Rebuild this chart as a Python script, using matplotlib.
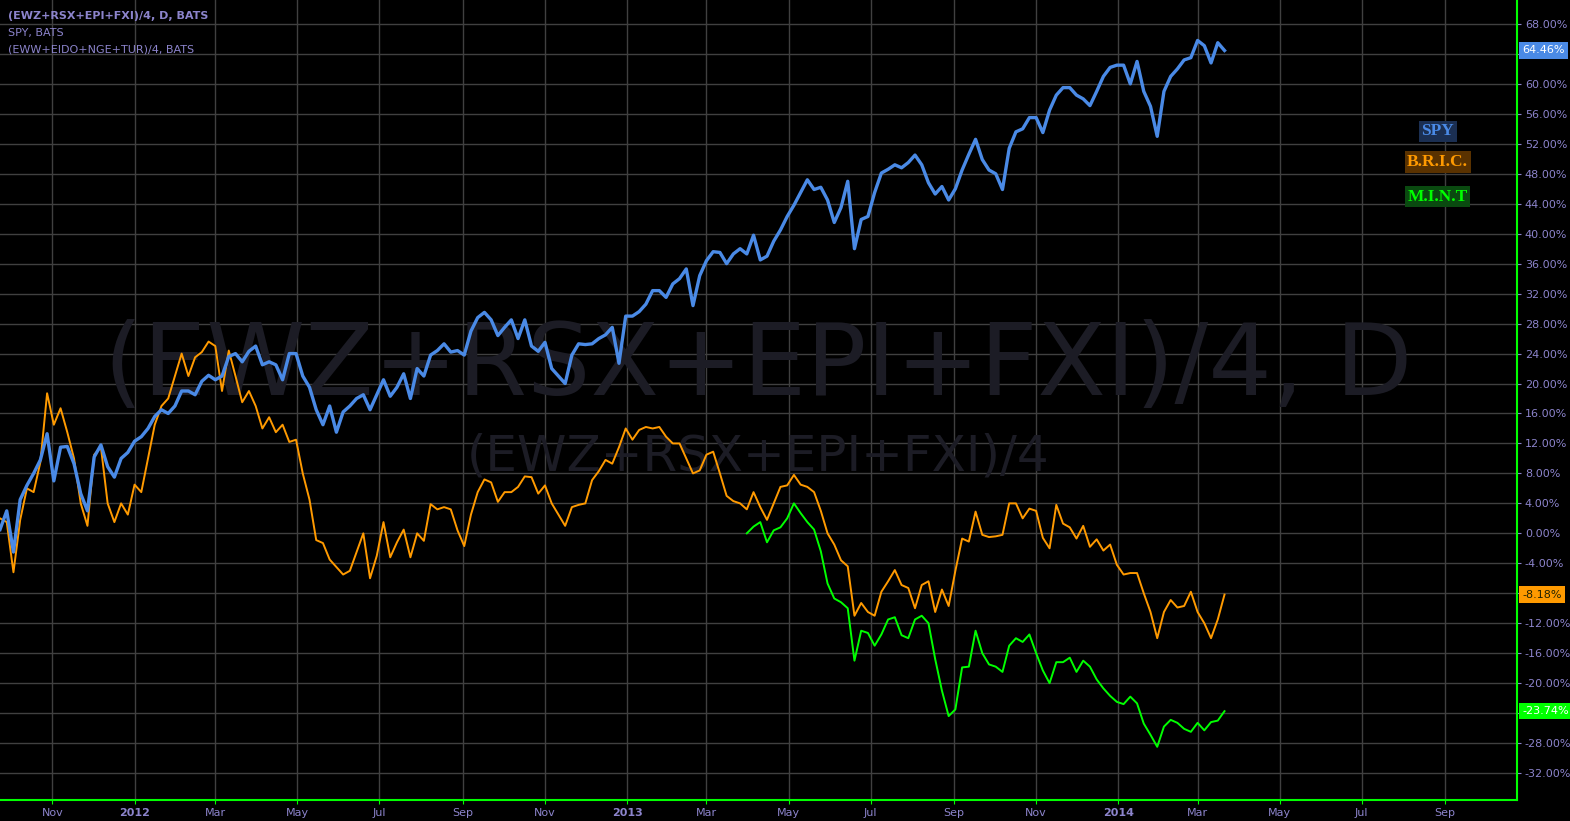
import pandas as pd
import matplotlib
matplotlib.use('Agg')
import matplotlib.pyplot as plt
import matplotlib.dates as mdates

# percent change series, one value every 5 days starting 2011-09-23
start = '2011-09-23'
step = '5D'

spy = [0.5, 3.0, -2.5, 4.5, 6.4, 8.0, 9.8, 13.3, 7.0, 11.5,
       11.6, 9.3, 5.3, 3.0, 10.2, 11.8, 8.9, 7.5, 10.0, 10.8,
       12.3, 12.9, 14.0, 15.6, 16.5, 16.0, 17.0, 19.0, 19.0, 18.5,
       20.3, 21.1, 20.5, 21.0, 23.6, 24.0, 22.9, 24.3, 25.0, 22.5,
       22.9, 22.5, 20.5, 24.0, 24.0, 21.0, 19.5, 16.5, 14.5, 17.0,
       13.5, 16.2, 17.0, 18.0, 18.5, 16.5, 18.5, 20.5, 18.3, 19.5,
       21.3, 18.0, 22.0, 21.0, 23.8, 24.4, 25.3, 24.2, 24.4, 23.8,
       27.0, 28.8, 29.5, 28.5, 26.4, 27.5, 28.5, 26.0, 28.5, 25.0,
       24.3, 25.5, 22.0, 21.0, 20.0, 23.8, 25.3, 25.2, 25.3, 26.0,
       26.5, 27.5, 22.7, 29.0, 29.0, 29.6, 30.6, 32.4, 32.4, 31.5,
       33.3, 34.0, 35.3, 30.4, 34.4, 36.4, 37.6, 37.5, 36.0, 37.3,
       38.0, 37.3, 39.8, 36.5, 37.0, 39.0, 40.5, 42.3, 43.8, 45.5,
       47.2, 45.9, 46.2, 44.5, 41.5, 43.5, 47.0, 38.0, 41.9, 42.3,
       45.5, 48.1, 48.6, 49.2, 48.8, 49.5, 50.5, 49.2, 46.8, 45.3,
       46.3, 44.5, 46.0, 48.5, 50.6, 52.6, 49.9, 48.5, 48.0, 45.9,
       51.4, 53.6, 54.0, 55.5, 55.5, 53.5, 56.5, 58.5, 59.5, 59.5,
       58.5, 58.0, 57.1, 59.0, 61.0, 62.2, 62.5, 62.5, 60.0, 63.0,
       59.0, 57.0, 53.0, 59.0, 61.0, 62.0, 63.2, 63.5, 65.8, 65.1,
       62.8, 65.5, 64.46]

bric = [2.0, 1.5, -5.2, 1.8, 6.0, 5.5, 9.5, 18.7, 14.5, 16.7,
        13.5, 10.0, 4.0, 1.0, 10.5, 11.5, 4.0, 1.5, 4.0, 2.5,
        6.5, 5.5, 10.0, 14.5, 17.0, 18.0, 21.0, 24.0, 21.0, 23.5,
        24.2, 25.6, 25.0, 19.0, 24.4, 21.0, 17.5, 19.0, 17.0, 14.0,
        15.5, 13.5, 14.5, 12.2, 12.5, 8.0, 4.5, -0.9, -1.3, -3.5,
        -4.5, -5.5, -5.0, -2.5, 0.0, -6.0, -3.0, 1.5, -3.2, -1.2,
        0.5, -3.2, 0.0, -1.0, 3.9, 3.2, 3.5, 3.2, 0.4, -1.7,
        2.5, 5.5, 7.2, 6.8, 4.2, 5.5, 5.5, 6.2, 7.6, 7.5,
        5.3, 6.4, 4.0, 2.5, 1.0, 3.5, 3.8, 4.0, 7.1, 8.3,
        9.8, 9.3, 11.5, 14.0, 12.5, 13.8, 14.2, 14.0, 14.2, 12.9,
        12.0, 12.0, 10.0, 8.0, 8.4, 10.5, 10.9, 8.0, 5.0, 4.3,
        4.0, 3.2, 5.5, 3.5, 1.8, 4.0, 6.2, 6.4, 7.8, 6.5,
        6.2, 5.5, 3.0, 0.0, -1.5, -3.6, -4.4, -11.0, -9.3, -10.5,
        -11.0, -7.8, -6.4, -4.9, -6.9, -7.3, -10.0, -6.9, -6.4, -10.5,
        -7.5, -9.7, -5.0, -0.7, -1.1, 2.9, -0.2, -0.5, -0.4, -0.2,
        4.0, 4.0, 2.0, 3.3, 3.0, -0.6, -2.0, 3.8, 1.3, 0.8,
        -0.7, 1.0, -1.8, -0.8, -2.3, -1.5, -4.2, -5.5, -5.3, -5.3,
        -8.0, -10.5, -14.0, -10.5, -8.9, -9.9, -9.7, -7.8, -10.5, -12.0,
        -14.0, -11.5, -8.18]

# MINT starts later (index 111 of the date grid)
mint_first = 111
mint = [0.0, 0.9, 1.5, -1.2, 0.4, 0.8, 2.0, 4.0, 2.7, 1.5,
        0.5, -2.4, -6.7, -8.7, -9.2, -10.0, -17.0, -13.0, -13.3, -15.0,
        -13.5, -11.5, -11.2, -13.6, -14.0, -11.5, -11.0, -12.0, -16.8, -21.0,
        -24.4, -23.5, -17.9, -17.8, -13.0, -16.0, -17.5, -17.8, -18.5, -15.0,
        -14.0, -14.5, -13.5, -16.0, -18.3, -20.0, -17.2, -17.2, -16.6, -18.5,
        -17.0, -17.8, -19.5, -20.7, -21.7, -22.5, -22.8, -21.8, -22.7, -25.4,
        -26.9, -28.5, -25.8, -24.9, -25.3, -26.1, -26.5, -25.3, -26.3, -25.2,
        -25.0, -23.74]

yticks = list(range(-32, 69, 4))
hidden_ticks = [64, -8, -24]   # covered by the last value tags

blue = '#4a8ae6'
orange = '#ff9a00'
green = '#00ff00'
lav = '#8c84cc'

dates = pd.date_range(start, periods=len(spy), freq=step)
mint_dates = dates[mint_first:mint_first + len(mint)]

W, H = 1570, 821
fig = plt.figure(figsize=(W / 100, H / 100), dpi=100, facecolor='black')
ax = fig.add_axes([0, 21 / H, 1516.5 / W, 800 / H], facecolor='black')

ax.plot(dates, bric, color=orange, lw=1.4, zorder=3)
ax.plot(mint_dates, mint, color=green, lw=1.4, zorder=3)
ax.plot(dates, spy, color=blue, lw=2.4, zorder=4)

ax.set_xlim(pd.Timestamp('2011-09-23'), pd.Timestamp('2014-10-24'))
ax.set_ylim(-35.6, 71.2)

# watermark
ax.text(0.5, 0.54, '(EWZ+RSX+EPI+FXI)/4, D', transform=ax.transAxes,
        ha='center', va='center', fontsize=72, color='#1c1c25', zorder=1)
ax.text(0.5, 0.43, '(EWZ+RSX+EPI+FXI)/4', transform=ax.transAxes,
        ha='center', va='center', fontsize=36, color='#1c1c25', zorder=1)

# axes styling
for s in ['top', 'left']:
    ax.spines[s].set_visible(False)
for s in ['right', 'bottom']:
    ax.spines[s].set_color(green)
    ax.spines[s].set_linewidth(1.5)

ax.yaxis.tick_right()
ax.set_yticks(yticks)
ax.set_yticklabels(['' if v in hidden_ticks else '{:.2f}%'.format(v) for v in yticks])
ax.tick_params(axis='y', colors=lav, labelsize=8, length=3, pad=3)

ax.xaxis.set_major_locator(mdates.MonthLocator(bymonth=[1, 3, 5, 7, 9, 11]))
ax.xaxis.set_major_formatter(
    plt.FuncFormatter(lambda x, p: mdates.num2date(x).strftime('%Y')
                      if mdates.num2date(x).month == 1
                      else mdates.num2date(x).strftime('%b')))
ax.tick_params(axis='x', colors=green, labelcolor=lav, labelsize=8, length=3, pad=3)
for lbl in ax.get_xticklabels():
    if lbl.get_text().isdigit():
        lbl.set_fontweight('bold')

ax.grid(True, color='#404040', lw=1)
ax.set_axisbelow(True)

# last value tags on the price axis
for val, fc, tc in [(spy[-1], blue, 'white'), (bric[-1], orange, '#222200'),
                    (mint[-1], green, 'white')]:
    ax.annotate('{:.2f}%'.format(val), xy=(1, val),
                xycoords=('axes fraction', 'data'),
                xytext=(4, 0), textcoords='offset points',
                ha='left', va='center', fontsize=8, color=tc,
                bbox=dict(boxstyle='square,pad=0.3', fc=fc, ec='none'),
                annotation_clip=False, zorder=10)

# series tags
for txt, y, fc, tc in [('SPY', 0.836, '#1b2f52', blue),
                       ('B.R.I.C.', 0.7975, '#5a3200', orange),
                       ('M.I.N.T', 0.754, '#0a4a10', green)]:
    ax.text(0.948, y, txt, transform=ax.transAxes, ha='center', va='center',
            fontsize=12.5, fontweight='bold', family='Liberation Serif', color=tc,
            bbox=dict(boxstyle='square,pad=0.15', fc=fc, ec='none'), zorder=6)

# header
fig.text(8 / W, 1 - 16 / H, '(EWZ+RSX+EPI+FXI)/4, D, BATS', color=lav,
         fontsize=8, fontweight='bold', va='center')
fig.text(8 / W, 1 - 33 / H, 'SPY, BATS', color=lav, fontsize=8, va='center')
fig.text(8 / W, 1 - 50 / H, '(EWW+EIDO+NGE+TUR)/4, BATS', color=lav,
         fontsize=8, va='center')

fig.savefig('out.png', dpi=100, facecolor='black')
